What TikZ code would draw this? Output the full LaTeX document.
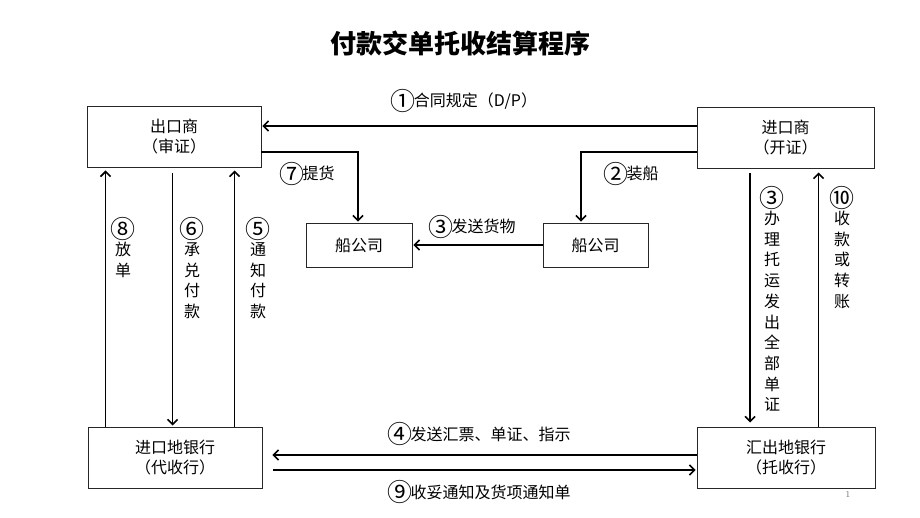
\documentclass[tikz,border=0pt]{standalone}
\usepackage{fontspec}
\newfontfamily\cjk{Noto Sans CJK SC}
\usetikzlibrary{arrows.meta,calc}
\newcommand\cnum[1]{\raisebox{-3.5pt}{\makebox[21pt]{\fontsize{25}{20}\selectfont #1}}}
\tikzset{
  box/.style={draw=black!85,line width=0.9pt,inner sep=0pt,align=center,
    font=\cjk\fontsize{16}{20}\selectfont},
  arr/.style={line width=1.8pt,-{Straight Barb[length=5pt,width=10pt,line width=1.6pt]}},
  lbl/.style={inner sep=0pt,font=\cjk\fontsize{16}{20}\selectfont},
  vlbl/.style={inner sep=0pt,align=center,anchor=north,font=\cjk\fontsize{16}{20.7}\selectfont}
}
\begin{document}
\begin{tikzpicture}[x=1pt,y=-1pt]
\useasboundingbox[fill=white] (0,0) rectangle (920,518);
\node[inner sep=0pt,font=\cjk\bfseries\fontsize{26}{30}\selectfont] (title) at (460,44) {付款交单托收结算程序};

\node[box,minimum width=174pt,minimum height=61pt] (exp) at (174,136.5) {出口商\\（审证）};
\node[box,minimum width=177pt,minimum height=61pt] (imp) at (785.5,137.5) {进口商\\（开证）};
\node[box,minimum width=106pt,minimum height=44pt] (ship1) at (359,245) {船公司};
\node[box,minimum width=105pt,minimum height=44pt] (ship2) at (595.5,245) {船公司};
\node[box,minimum width=174pt,minimum height=61pt] (bankI) at (175,457.5) {进口地银行\\（代收行）};
\node[box,minimum width=178pt,minimum height=61pt] (bankE) at (786,457.5) {汇出地银行\\（托收行）};

% 1
\draw[arr,shorten >=1pt] ($(imp.west)+(0,-11.5)$) coordinate (a1) -- (a1 -| exp.east);
\node[lbl] (l1) at (465,101) {\cnum{①}合同规定（D/P）};
% 7
\draw[arr,shorten >=1pt] ($(exp.east)+(0,15.5)$) -| ($(ship1.north)+(-1,0)$);
\node[lbl] (l7) at (308,174) {\cnum{⑦}提货};
% 2
\draw[arr,shorten >=1pt] ($(imp.west)+(0,14.5)$) -| ($(ship2.north)+(-14.5,0)$);
\node[lbl] (l2) at (632,174) {\cnum{②}装船};
% 3 goods
\draw[arr,shorten >=1pt] (ship2.west) -- (ship1.east);
\node[lbl] (l3g) at (473,227) {\cnum{③}发送货物};

% left verticals
\draw[arr,shorten >=3pt] ($(bankI.south west)+(18,-61)$) coordinate (b8) -- (b8 |- exp.south);
\node[vlbl] (l8) at (123,217) {\cnum{⑧}\\放\\单};
\draw[arr,shorten <=6pt,shorten >=1pt] ($(exp.south west)+(86,0)$) coordinate (b6) -- (b6 |- bankI.north);
\node[vlbl] (l6) at (192,217) {\cnum{⑥}\\承\\兑\\付\\款};
\draw[arr,shorten >=3pt] ($(bankI.south west)+(147,-61)$) coordinate (b5) -- (b5 |- exp.south);
\node[vlbl] (l5) at (258,217) {\cnum{⑤}\\通\\知\\付\\款};

% right verticals
\draw[arr,shorten <=5pt,shorten >=4pt] ($(imp.south west)+(53.5,0)$) coordinate (c3) -- (c3 |- bankE.north);
\node[vlbl] (l3) at (772,186) {\cnum{③}\\办\\理\\托\\运\\发\\出\\全\\部\\单\\证};
\draw[arr,shorten >=4pt] ($(bankE.south west)+(122,-61)$) coordinate (c10) -- (c10 |- imp.south);
\node[vlbl] (l10) at (842,186) {\cnum{⑩}\\收\\款\\或\\转\\账};

% bottom
\draw[arr,shorten >=10pt] ($(bankE.west)+(0,-2.5)$) coordinate (d4) -- (d4 -| bankI.east);
\node[lbl] (l4) at (480,434) {\cnum{④}发送汇票、单证、指示};
\draw[arr,shorten <=11pt,shorten >=1pt] ($(bankI.east)+(0,12.5)$) coordinate (d9) -- (d9 -| bankE.west);
\node[lbl] (l9) at (480,492) {\cnum{⑨}收妥通知及货项通知单};

\node[inner sep=0pt,text=black!60,font=\fontsize{9}{10}\selectfont] (pg) at (848,494) {1};
\end{tikzpicture}
\end{document}
